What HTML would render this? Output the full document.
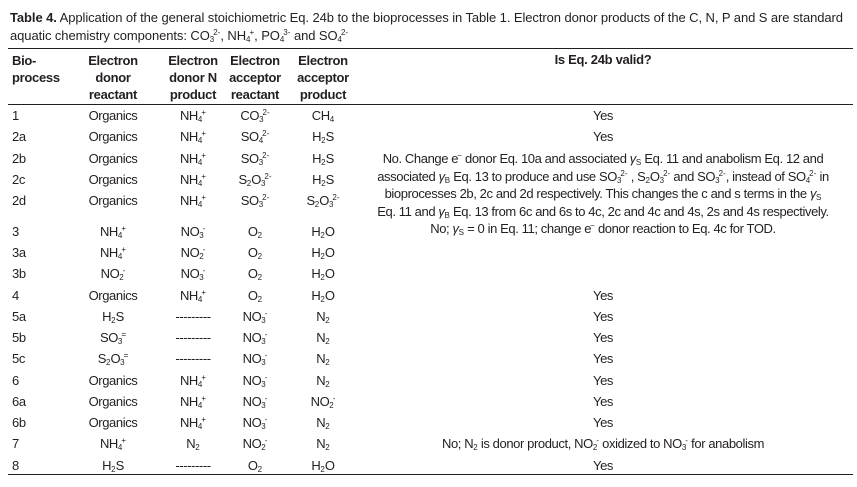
<!DOCTYPE html>
<html><head><meta charset="utf-8"><style>
html,body{margin:0;padding:0;background:#fff;}
body{width:857px;height:487px;position:relative;overflow:hidden;font-family:"Liberation Sans",sans-serif;color:#231f20;font-size:13px;letter-spacing:-0.4px;}
.t{position:absolute;white-space:nowrap;line-height:15px;}
.c{transform:translateX(-50%);text-align:center;}
.h{font-weight:bold;letter-spacing:-0.3px;}
sub,sup{font-size:8px;line-height:0;letter-spacing:0;}
sub{vertical-align:-2px;}
sup{vertical-align:5px;margin-left:-1px;}
.rule{position:absolute;left:8px;width:845px;background:#231f20;}
</style></head><body>
<div class="t" style="left:10px;top:10px;letter-spacing:-0.08px;"><b>Table 4.</b> Application of the general stoichiometric Eq. 24b to the bioprocesses in Table 1. Electron donor products of the C, N, P and S are standard</div>
<div class="t" style="left:10px;top:28px;letter-spacing:-0.08px;">aquatic chemistry components: CO<sub>3</sub><sup>2-</sup>, NH<sub>4</sub><sup>+</sup>, PO<sub>4</sub><sup>3-</sup> and SO<sub>4</sub><sup>2-</sup></div>
<div class="rule" style="top:48px;height:1px;"></div>
<div class="t h" style="left:12px;top:52px;line-height:17px;">Bio-<br>process</div>
<div class="t h c" style="left:113px;top:52px;line-height:17px;">Electron<br>donor<br>reactant</div>
<div class="t h c" style="left:193px;top:52px;line-height:17px;">Electron<br>donor N<br>product</div>
<div class="t h c" style="left:255px;top:52px;line-height:17px;">Electron<br>acceptor<br>reactant</div>
<div class="t h c" style="left:323px;top:52px;line-height:17px;">Electron<br>acceptor<br>product</div>
<div class="t h c" style="left:603px;top:52px;">Is Eq. 24b valid?</div>
<div class="rule" style="top:104px;height:1px;"></div>

<div class="t" style="left:12px;top:108px;">1</div><div class="t c" style="left:113px;top:108px;">Organics</div><div class="t c" style="left:193px;top:108px;">NH<sub>4</sub><sup>+</sup></div><div class="t c" style="left:255px;top:108px;">CO<sub>3</sub><sup>2-</sup></div><div class="t c" style="left:323px;top:108px;">CH<sub>4</sub></div><div class="t c" style="left:603px;top:108px;">Yes</div>
<div class="t" style="left:12px;top:129px;">2a</div><div class="t c" style="left:113px;top:129px;">Organics</div><div class="t c" style="left:193px;top:129px;">NH<sub>4</sub><sup>+</sup></div><div class="t c" style="left:255px;top:129px;">SO<sub>4</sub><sup>2-</sup></div><div class="t c" style="left:323px;top:129px;">H<sub>2</sub>S</div><div class="t c" style="left:603px;top:129px;">Yes</div>
<div class="t" style="left:12px;top:151px;">2b</div><div class="t c" style="left:113px;top:151px;">Organics</div><div class="t c" style="left:193px;top:151px;">NH<sub>4</sub><sup>+</sup></div><div class="t c" style="left:255px;top:151px;">SO<sub>3</sub><sup>2-</sup></div><div class="t c" style="left:323px;top:151px;">H<sub>2</sub>S</div>
<div class="t" style="left:12px;top:172px;">2c</div><div class="t c" style="left:113px;top:172px;">Organics</div><div class="t c" style="left:193px;top:172px;">NH<sub>4</sub><sup>+</sup></div><div class="t c" style="left:255px;top:172px;">S<sub>2</sub>O<sub>3</sub><sup>2-</sup></div><div class="t c" style="left:323px;top:172px;">H<sub>2</sub>S</div>
<div class="t" style="left:12px;top:193px;">2d</div><div class="t c" style="left:113px;top:193px;">Organics</div><div class="t c" style="left:193px;top:193px;">NH<sub>4</sub><sup>+</sup></div><div class="t c" style="left:255px;top:193px;">SO<sub>3</sub><sup>2-</sup></div><div class="t c" style="left:323px;top:193px;">S<sub>2</sub>O<sub>3</sub><sup>2-</sup></div>
<div class="t c" style="left:603px;top:150px;line-height:17.7px;">No. Change e<sup>−</sup> donor Eq. 10a and associated <i>γ</i><sub>S</sub> Eq. 11 and anabolism Eq. 12 and<br>associated <i>γ</i><sub>B</sub> Eq. 13 to produce and use SO<sub>3</sub><sup>2-</sup> , S<sub>2</sub>O<sub>3</sub><sup>2-</sup> and SO<sub>3</sub><sup>2-</sup>, instead of SO<sub>4</sub><sup>2-</sup> in<br>bioprocesses 2b, 2c and 2d respectively. This changes the c and s terms in the <i>γ</i><sub>S</sub><br>Eq. 11 and <i>γ</i><sub>B</sub> Eq. 13 from 6c and 6s to 4c, 2c and 4c and 4s, 2s and 4s respectively.</div>
<div class="t" style="left:12px;top:224px;">3</div><div class="t c" style="left:113px;top:224px;">NH<sub>4</sub><sup>+</sup></div><div class="t c" style="left:193px;top:224px;">NO<sub>3</sub><sup>-</sup></div><div class="t c" style="left:255px;top:224px;">O<sub>2</sub></div><div class="t c" style="left:323px;top:224px;">H<sub>2</sub>O</div><div class="t c" style="left:603px;top:221px;">No; <i>γ</i><sub>S</sub> = 0 in Eq. 11; change e<sup>−</sup> donor reaction to Eq. 4c for TOD.</div>
<div class="t" style="left:12px;top:245px;">3a</div><div class="t c" style="left:113px;top:245px;">NH<sub>4</sub><sup>+</sup></div><div class="t c" style="left:193px;top:245px;">NO<sub>2</sub><sup>-</sup></div><div class="t c" style="left:255px;top:245px;">O<sub>2</sub></div><div class="t c" style="left:323px;top:245px;">H<sub>2</sub>O</div>
<div class="t" style="left:12px;top:266px;">3b</div><div class="t c" style="left:113px;top:266px;">NO<sub>2</sub><sup>-</sup></div><div class="t c" style="left:193px;top:266px;">NO<sub>3</sub><sup>-</sup></div><div class="t c" style="left:255px;top:266px;">O<sub>2</sub></div><div class="t c" style="left:323px;top:266px;">H<sub>2</sub>O</div>
<div class="t" style="left:12px;top:288px;">4</div><div class="t c" style="left:113px;top:288px;">Organics</div><div class="t c" style="left:193px;top:288px;">NH<sub>4</sub><sup>+</sup></div><div class="t c" style="left:255px;top:288px;">O<sub>2</sub></div><div class="t c" style="left:323px;top:288px;">H<sub>2</sub>O</div><div class="t c" style="left:603px;top:288px;">Yes</div>
<div class="t" style="left:12px;top:309px;">5a</div><div class="t c" style="left:113px;top:309px;">H<sub>2</sub>S</div><div class="t c" style="left:193px;top:309px;">---------</div><div class="t c" style="left:255px;top:309px;">NO<sub>3</sub><sup>-</sup></div><div class="t c" style="left:323px;top:309px;">N<sub>2</sub></div><div class="t c" style="left:603px;top:309px;">Yes</div>
<div class="t" style="left:12px;top:330px;">5b</div><div class="t c" style="left:113px;top:330px;">SO<sub>3</sub><sup>=</sup></div><div class="t c" style="left:193px;top:330px;">---------</div><div class="t c" style="left:255px;top:330px;">NO<sub>3</sub><sup>-</sup></div><div class="t c" style="left:323px;top:330px;">N<sub>2</sub></div><div class="t c" style="left:603px;top:330px;">Yes</div>
<div class="t" style="left:12px;top:351px;">5c</div><div class="t c" style="left:113px;top:351px;">S<sub>2</sub>O<sub>3</sub><sup>=</sup></div><div class="t c" style="left:193px;top:351px;">---------</div><div class="t c" style="left:255px;top:351px;">NO<sub>3</sub><sup>-</sup></div><div class="t c" style="left:323px;top:351px;">N<sub>2</sub></div><div class="t c" style="left:603px;top:351px;">Yes</div>
<div class="t" style="left:12px;top:373px;">6</div><div class="t c" style="left:113px;top:373px;">Organics</div><div class="t c" style="left:193px;top:373px;">NH<sub>4</sub><sup>+</sup></div><div class="t c" style="left:255px;top:373px;">NO<sub>3</sub><sup>-</sup></div><div class="t c" style="left:323px;top:373px;">N<sub>2</sub></div><div class="t c" style="left:603px;top:373px;">Yes</div>
<div class="t" style="left:12px;top:394px;">6a</div><div class="t c" style="left:113px;top:394px;">Organics</div><div class="t c" style="left:193px;top:394px;">NH<sub>4</sub><sup>+</sup></div><div class="t c" style="left:255px;top:394px;">NO<sub>3</sub><sup>-</sup></div><div class="t c" style="left:323px;top:394px;">NO<sub>2</sub><sup>-</sup></div><div class="t c" style="left:603px;top:394px;">Yes</div>
<div class="t" style="left:12px;top:415px;">6b</div><div class="t c" style="left:113px;top:415px;">Organics</div><div class="t c" style="left:193px;top:415px;">NH<sub>4</sub><sup>+</sup></div><div class="t c" style="left:255px;top:415px;">NO<sub>3</sub><sup>-</sup></div><div class="t c" style="left:323px;top:415px;">N<sub>2</sub></div><div class="t c" style="left:603px;top:415px;">Yes</div>
<div class="t" style="left:12px;top:436px;">7</div><div class="t c" style="left:113px;top:436px;">NH<sub>4</sub><sup>+</sup></div><div class="t c" style="left:193px;top:436px;">N<sub>2</sub></div><div class="t c" style="left:255px;top:436px;">NO<sub>2</sub><sup>-</sup></div><div class="t c" style="left:323px;top:436px;">N<sub>2</sub></div><div class="t c" style="left:603px;top:436px;">No; N<sub>2</sub> is donor product, NO<sub>2</sub><sup>-</sup> oxidized to NO<sub>3</sub><sup>-</sup> for anabolism</div>
<div class="t" style="left:12px;top:458px;">8</div><div class="t c" style="left:113px;top:458px;">H<sub>2</sub>S</div><div class="t c" style="left:193px;top:458px;">---------</div><div class="t c" style="left:255px;top:458px;">O<sub>2</sub></div><div class="t c" style="left:323px;top:458px;">H<sub>2</sub>O</div><div class="t c" style="left:603px;top:458px;">Yes</div>
<div class="rule" style="top:474px;height:1px;"></div>
</body></html>
